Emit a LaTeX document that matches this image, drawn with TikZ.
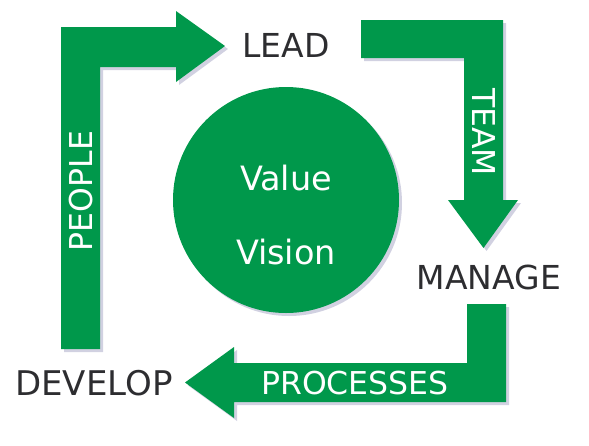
\documentclass[tikz,border=0pt]{standalone}
\usepackage{fontspec}
\setmainfont{DejaVu Sans}
\usepackage{tikz}
\usetikzlibrary{positioning}
\usetikzlibrary{shadows}
\definecolor{leafgreen}{RGB}{0,152,75}
\definecolor{inkgray}{RGB}{45,45,48}
\definecolor{haze}{RGB}{198,198,218}

\begin{document}
\begin{tikzpicture}[x=1pt, y=-1pt,
    band/.style={fill=leafgreen, drop shadow={shadow xshift=3pt, shadow yshift=-3pt, fill=haze, opacity=.8}},
    stage/.style={text=inkgray, font=\fontsize{33}{36}\selectfont, inner sep=0pt},
    tag/.style={text=white, font=\fontsize{31.5}{34}\selectfont, inner sep=0pt}]
    \useasboundingbox (0,0) rectangle (589,445);

    % bent arrows
    \fill[band] (61,349) -- (61,27) -- (176,27) -- (176,11) -- (225,46) -- (176,82) -- (176,67) -- (100,67) -- (100,349) -- cycle;
    \fill[band] (361,20) -- (503,20) -- (503,200) -- (518,200) -- (483.5,248) -- (448,200) -- (464,200) -- (464,58) -- (361,58) -- cycle;
    \fill[band] (467,304) -- (506,304) -- (506,402) -- (234,402) -- (234,418) -- (185,382.5) -- (234,347) -- (234,363) -- (467,363) -- cycle;

    % centre
    \node[band, circle, minimum size=226pt, inner sep=0pt] (core) at (286,200) {};
    \node[tag, font=\fontsize{33.5}{36}\selectfont] (value) at (286,178) {Value};
    \node[tag, font=\fontsize{33.5}{36}\selectfont] (vision) at (286,252) {Vision};

    % stages
    \node[stage] (lead) at (286,45) {LEAD};
    \node[stage] (manage) at (489,277) {MANAGE};
    \node[stage, font=\fontsize{34}{36}\selectfont] (develop) at (94,383) {DEVELOP};

    % arrow labels
    \node[tag, rotate=-90] (team) at (483.5,132) {TEAM};
    \node[tag] (processes) at (355,383) {PROCESSES};
    \node[tag, rotate=90] (people) at (81,191) {PEOPLE};
\end{tikzpicture}
\end{document}
